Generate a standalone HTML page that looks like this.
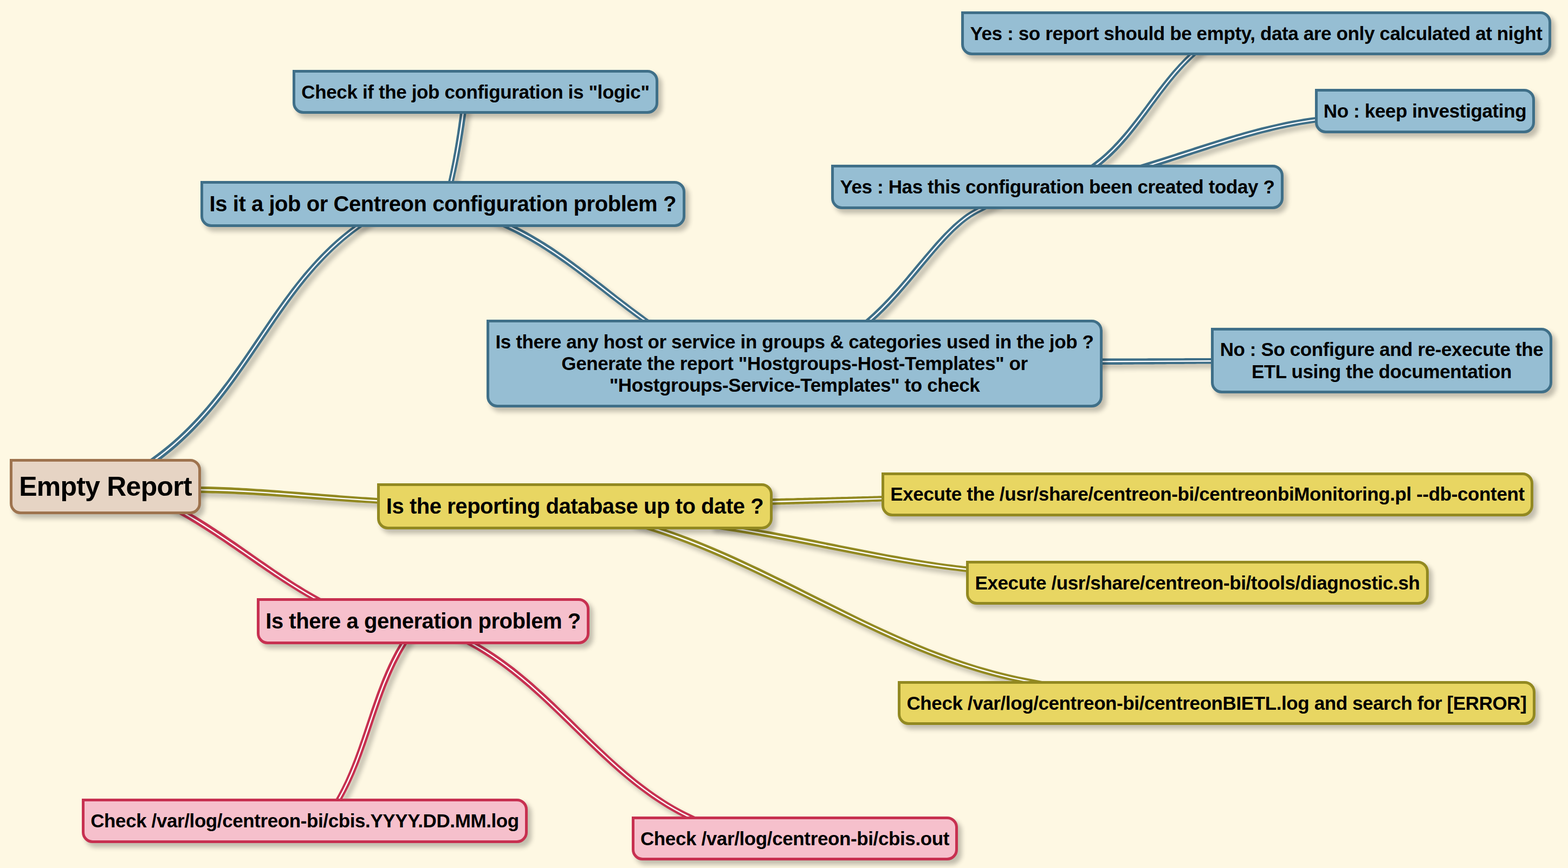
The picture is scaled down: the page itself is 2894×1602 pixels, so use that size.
<!DOCTYPE html>
<html lang="en">
<head>
<meta charset="utf-8">
<title>Empty Report</title>
<style>
html,body{margin:0;padding:0;}
body{width:2894px;height:1602px;background:#fef8e3;overflow:hidden;position:relative;font-family:"Liberation Sans",sans-serif;}
#map{position:absolute;left:0;top:0;width:2894px;height:1602px;overflow:hidden;}
#links{position:absolute;left:0;top:0;}
.n{position:absolute;box-sizing:border-box;border:5px solid;border-radius:0 20px 20px 20px;
 box-shadow:6.5px 7.5px 8.5px rgba(0,0,0,.24);color:#000;font-weight:bold;text-align:center;white-space:nowrap;
 display:flex;flex-direction:column;justify-content:center;align-items:center;}
.n span{display:block;position:relative;}

.root{background:#e6d4c4;border-color:#9e734e;}
.blue{background:#96bed3;border-color:#3f6f88;}
.olive{background:#e8d662;border-color:#928921;}
.pink{background:#f6c0cc;border-color:#c73050;}
.f0{font-size:50px;line-height:58px;}
.f1{font-size:40px;line-height:47px;}
.f2{font-size:35px;line-height:40.2px;}
.f0 span{top:-0.3px}.f1 span{top:-0.2px}.f2 span{top:0.2px}
</style>
</head>
<body>
<div id="map">
<svg id="links" xmlns="http://www.w3.org/2000/svg" width="2894" height="1602" viewBox="0 0 2894 1602" fill="none" stroke-linecap="butt" stroke-linejoin="round">
<defs><filter id="sh" x="0" y="0" width="2894" height="1602" filterUnits="userSpaceOnUse"><feGaussianBlur in="SourceAlpha" stdDeviation="4.2"/><feOffset dx="6.5" dy="7.5"/><feComponentTransfer><feFuncA type="linear" slope="0.23"/></feComponentTransfer></filter></defs>
<g filter="url(#sh)" fill="#000" stroke="none">
<path d="M247.5,883.2 L286.6,855.4 L297.5,847.4 L308.0,839.3 L318.2,830.9 L328.1,822.4 L337.7,813.7 L347.0,804.9 L356.1,795.9 L365.0,786.7 L373.6,777.5 L382.0,768.1 L390.2,758.6 L398.2,749.0 L406.0,739.3 L413.6,729.5 L421.1,719.7 L428.5,709.8 L435.8,699.8 L442.9,689.8 L450.0,679.8 L456.9,669.7 L463.8,659.7 L470.7,649.6 L477.5,639.5 L484.3,629.4 L491.0,619.4 L497.8,609.4 L504.5,599.4 L511.3,589.5 L518.2,579.7 L525.1,569.9 L532.0,560.2 L539.1,550.5 L546.2,541.0 L553.4,531.6 L560.8,522.3 L568.2,513.1 L575.9,504.0 L583.6,495.1 L591.6,486.4 L599.7,477.7 L608.1,469.3 L616.6,461.0 L625.4,453.0 L634.4,445.1 L643.7,437.4 L653.2,429.9 L663.0,422.7 L702.0,394.8 L695.9,386.2 L656.9,414.1 L646.8,421.5 L637.0,429.2 L627.5,437.0 L618.3,445.0 L609.3,453.3 L600.5,461.7 L592.0,470.3 L583.7,479.0 L575.6,487.9 L567.6,496.9 L559.8,506.1 L552.2,515.4 L544.8,524.8 L537.4,534.3 L530.2,544.0 L523.1,553.6 L516.0,563.4 L509.0,573.3 L502.1,583.1 L495.3,593.1 L488.5,603.1 L481.7,613.1 L474.9,623.1 L468.1,633.1 L461.2,643.2 L454.4,653.2 L447.5,663.2 L440.5,673.2 L433.5,683.1 L426.4,693.0 L419.2,702.9 L411.8,712.6 L404.4,722.3 L396.8,732.0 L389.1,741.5 L381.2,750.9 L373.1,760.2 L364.8,769.4 L356.3,778.5 L347.6,787.5 L338.7,796.2 L329.5,804.9 L320.1,813.4 L310.4,821.7 L300.4,829.8 L290.1,837.7 L279.6,845.4 L240.5,873.3Z"/>
<path d="M855.3,161.9 L848.8,209.5 L848.5,212.1 L848.2,214.8 L847.8,217.4 L847.4,220.0 L847.1,222.7 L846.7,225.3 L846.3,228.0 L846.0,230.6 L845.6,233.3 L845.2,235.9 L844.8,238.5 L844.4,241.2 L844.1,243.8 L843.7,246.4 L843.3,249.1 L842.8,251.7 L842.4,254.4 L842.0,257.0 L841.6,259.6 L841.2,262.3 L840.7,264.9 L840.3,267.5 L839.9,270.2 L839.4,272.8 L839.0,275.4 L838.5,278.0 L838.1,280.7 L837.6,283.3 L837.1,285.9 L836.6,288.5 L836.2,291.2 L835.7,293.8 L835.2,296.4 L834.7,299.0 L834.2,301.6 L833.7,304.2 L833.1,306.8 L832.6,309.5 L832.1,312.1 L831.5,314.7 L831.0,317.3 L830.5,319.9 L829.9,322.5 L829.3,325.1 L828.8,327.7 L828.2,330.3 L827.6,332.9 L816.8,379.6 L826.9,382.0 L837.7,335.2 L838.4,332.6 L839.0,330.0 L839.6,327.4 L840.2,324.7 L840.7,322.1 L841.3,319.5 L841.9,316.9 L842.5,314.2 L843.0,311.6 L843.6,309.0 L844.1,306.4 L844.7,303.7 L845.2,301.1 L845.7,298.4 L846.3,295.8 L846.8,293.2 L847.3,290.5 L847.8,287.9 L848.3,285.3 L848.8,282.6 L849.3,280.0 L849.8,277.3 L850.2,274.7 L850.7,272.0 L851.2,269.4 L851.7,266.7 L852.1,264.1 L852.6,261.4 L853.0,258.8 L853.5,256.1 L853.9,253.5 L854.3,250.8 L854.8,248.2 L855.2,245.5 L855.6,242.9 L856.0,240.2 L856.4,237.6 L856.8,234.9 L857.3,232.3 L857.7,229.6 L858.0,227.0 L858.4,224.3 L858.8,221.6 L859.2,219.0 L859.6,216.3 L860.0,213.7 L860.3,211.0 L866.8,163.5Z"/>
<path d="M895.0,403.6 L938.4,424.0 L944.2,426.8 L949.9,429.6 L955.6,432.4 L961.3,435.4 L966.9,438.4 L972.4,441.5 L978.0,444.6 L983.5,447.8 L988.9,451.0 L994.4,454.3 L999.8,457.7 L1005.1,461.1 L1010.5,464.5 L1015.8,468.0 L1021.1,471.5 L1026.4,475.1 L1031.7,478.7 L1036.9,482.4 L1042.1,486.1 L1047.3,489.8 L1052.5,493.5 L1057.6,497.3 L1062.8,501.1 L1067.9,504.9 L1073.1,508.8 L1078.2,512.7 L1083.3,516.5 L1088.4,520.4 L1093.5,524.3 L1098.6,528.3 L1103.7,532.2 L1108.8,536.1 L1113.9,540.1 L1118.9,544.0 L1124.0,547.9 L1129.1,551.9 L1134.2,555.8 L1139.3,559.7 L1144.4,563.6 L1149.6,567.5 L1154.7,571.4 L1159.8,575.3 L1165.0,579.1 L1170.2,583.0 L1175.4,586.8 L1180.6,590.6 L1185.8,594.3 L1224.8,622.3 L1230.8,613.8 L1191.8,585.9 L1186.7,582.1 L1181.5,578.3 L1176.4,574.5 L1171.3,570.7 L1166.2,566.9 L1161.1,563.0 L1156.0,559.1 L1150.9,555.2 L1145.8,551.3 L1140.7,547.4 L1135.7,543.4 L1130.6,539.5 L1125.5,535.5 L1120.5,531.6 L1115.4,527.6 L1110.3,523.6 L1105.2,519.7 L1100.1,515.7 L1095.0,511.8 L1089.9,507.9 L1084.8,503.9 L1079.7,500.0 L1074.5,496.2 L1069.4,492.3 L1064.2,488.4 L1059.0,484.6 L1053.8,480.8 L1048.6,477.0 L1043.3,473.3 L1038.0,469.6 L1032.7,465.9 L1027.4,462.3 L1022.0,458.6 L1016.7,455.1 L1011.2,451.6 L1005.8,448.1 L1000.3,444.7 L994.8,441.3 L989.2,438.0 L983.7,434.7 L978.0,431.5 L972.4,428.3 L966.6,425.2 L960.9,422.2 L955.1,419.2 L949.3,416.3 L943.4,413.5 L899.9,393.1Z"/>
<path d="M1571.4,627.8 L1607.7,596.4 L1612.7,592.1 L1617.5,587.7 L1622.3,583.2 L1627.1,578.6 L1631.8,573.9 L1636.5,569.2 L1641.1,564.4 L1645.7,559.5 L1650.2,554.6 L1654.7,549.6 L1659.2,544.7 L1663.6,539.6 L1668.0,534.6 L1672.3,529.5 L1676.6,524.5 L1680.9,519.4 L1685.2,514.3 L1689.4,509.2 L1693.6,504.2 L1697.8,499.2 L1701.9,494.2 L1706.0,489.2 L1710.1,484.2 L1714.2,479.4 L1718.3,474.5 L1722.3,469.7 L1726.3,465.0 L1730.3,460.4 L1734.3,455.8 L1738.3,451.4 L1742.3,447.0 L1746.2,442.7 L1750.2,438.5 L1754.1,434.4 L1758.0,430.5 L1762.0,426.6 L1765.9,422.9 L1769.8,419.4 L1773.7,415.9 L1777.6,412.6 L1781.4,409.5 L1785.3,406.5 L1789.2,403.7 L1793.1,401.1 L1797.0,398.7 L1800.8,396.4 L1804.7,394.3 L1847.5,372.6 L1842.8,363.3 L1800.0,385.1 L1795.8,387.3 L1791.5,389.7 L1787.4,392.3 L1783.2,395.1 L1779.1,398.1 L1775.0,401.2 L1770.9,404.5 L1766.8,407.9 L1762.7,411.4 L1758.6,415.1 L1754.6,418.9 L1750.5,422.9 L1746.5,426.9 L1742.4,431.1 L1738.4,435.3 L1734.3,439.7 L1730.3,444.1 L1726.2,448.6 L1722.1,453.2 L1718.1,457.9 L1714.0,462.7 L1709.9,467.4 L1705.8,472.3 L1701.7,477.2 L1697.6,482.1 L1693.4,487.1 L1689.2,492.1 L1685.1,497.1 L1680.9,502.1 L1676.6,507.1 L1672.4,512.2 L1668.1,517.2 L1663.8,522.2 L1659.5,527.2 L1655.1,532.2 L1650.7,537.1 L1646.3,542.0 L1641.9,546.9 L1637.4,551.7 L1632.8,556.5 L1628.3,561.2 L1623.7,565.8 L1619.1,570.3 L1614.4,574.8 L1609.7,579.2 L1605.0,583.5 L1600.2,587.7 L1563.8,619.0Z"/>
<path d="M1987.0,673.3 L2035.0,673.1 L2039.3,673.1 L2043.5,673.0 L2047.8,673.0 L2052.0,673.0 L2056.3,672.9 L2060.6,672.9 L2064.8,672.9 L2069.1,672.9 L2073.3,672.8 L2077.6,672.8 L2081.8,672.8 L2086.1,672.7 L2090.3,672.7 L2094.6,672.6 L2098.9,672.6 L2103.1,672.6 L2107.4,672.5 L2111.6,672.5 L2115.9,672.5 L2120.1,672.4 L2124.4,672.4 L2128.6,672.4 L2132.9,672.3 L2137.2,672.3 L2141.4,672.3 L2145.7,672.2 L2149.9,672.2 L2154.2,672.1 L2158.4,672.1 L2162.7,672.1 L2166.9,672.0 L2171.2,672.0 L2175.5,671.9 L2179.7,671.9 L2184.0,671.9 L2188.2,671.8 L2192.5,671.8 L2196.7,671.8 L2201.0,671.7 L2205.2,671.7 L2209.5,671.6 L2213.8,671.6 L2218.0,671.6 L2222.3,671.5 L2226.5,671.5 L2230.8,671.4 L2235.0,671.4 L2283.0,671.1 L2283.0,660.7 L2235.0,661.0 L2230.7,661.0 L2226.5,661.0 L2222.2,661.0 L2217.9,661.1 L2213.7,661.1 L2209.4,661.1 L2205.2,661.1 L2200.9,661.1 L2196.7,661.1 L2192.4,661.1 L2188.2,661.1 L2183.9,661.2 L2179.6,661.2 L2175.4,661.2 L2171.1,661.2 L2166.9,661.2 L2162.6,661.2 L2158.4,661.2 L2154.1,661.3 L2149.9,661.3 L2145.6,661.3 L2141.4,661.3 L2137.1,661.3 L2132.8,661.3 L2128.6,661.3 L2124.3,661.3 L2120.1,661.3 L2115.8,661.4 L2111.6,661.4 L2107.3,661.4 L2103.1,661.4 L2098.8,661.4 L2094.5,661.4 L2090.3,661.4 L2086.0,661.4 L2081.8,661.4 L2077.5,661.4 L2073.3,661.4 L2069.0,661.5 L2064.8,661.5 L2060.5,661.5 L2056.3,661.5 L2052.0,661.5 L2047.7,661.5 L2043.5,661.5 L2039.2,661.5 L2035.0,661.5 L1987.0,661.7Z"/>
<path d="M1987.8,338.2 L2026.1,309.3 L2030.8,305.7 L2035.4,302.0 L2039.9,298.2 L2044.3,294.3 L2048.6,290.4 L2052.9,286.4 L2057.1,282.3 L2061.2,278.2 L2065.2,274.0 L2069.1,269.7 L2073.0,265.4 L2076.9,261.1 L2080.7,256.7 L2084.4,252.2 L2088.1,247.8 L2091.7,243.3 L2095.3,238.8 L2098.9,234.2 L2102.5,229.6 L2106.0,225.0 L2109.4,220.4 L2112.9,215.8 L2116.4,211.2 L2119.8,206.5 L2123.2,201.9 L2126.6,197.2 L2130.0,192.6 L2133.5,188.0 L2136.9,183.3 L2140.3,178.7 L2143.7,174.1 L2147.2,169.6 L2150.7,165.0 L2154.2,160.5 L2157.7,156.0 L2161.3,151.6 L2164.8,147.2 L2168.5,142.8 L2172.1,138.5 L2175.8,134.2 L2179.6,129.9 L2183.4,125.7 L2187.3,121.6 L2191.2,117.6 L2195.2,113.6 L2199.2,109.6 L2203.3,105.8 L2238.7,73.3 L2231.6,65.6 L2196.3,98.1 L2192.0,102.1 L2187.8,106.1 L2183.7,110.2 L2179.7,114.4 L2175.7,118.6 L2171.8,122.9 L2167.9,127.2 L2164.1,131.5 L2160.3,135.9 L2156.6,140.4 L2152.9,144.9 L2149.3,149.4 L2145.7,153.9 L2142.2,158.5 L2138.6,163.0 L2135.1,167.6 L2131.6,172.2 L2128.2,176.8 L2124.7,181.5 L2121.3,186.1 L2117.8,190.7 L2114.4,195.4 L2111.0,200.0 L2107.5,204.6 L2104.1,209.2 L2100.6,213.7 L2097.1,218.3 L2093.7,222.8 L2090.1,227.3 L2086.6,231.8 L2083.0,236.3 L2079.4,240.7 L2075.8,245.0 L2072.1,249.3 L2068.4,253.6 L2064.6,257.8 L2060.8,262.0 L2056.9,266.1 L2053.0,270.2 L2049.0,274.2 L2045.0,278.1 L2040.9,281.9 L2036.7,285.7 L2032.4,289.4 L2028.1,293.1 L2023.6,296.6 L2019.1,300.1 L1980.8,329.0Z"/>
<path d="M2080.8,323.6 L2126.6,309.4 L2133.0,307.4 L2139.3,305.3 L2145.7,303.3 L2152.1,301.3 L2158.4,299.2 L2164.8,297.1 L2171.1,295.1 L2177.5,293.0 L2183.8,290.9 L2190.1,288.8 L2196.5,286.7 L2202.8,284.6 L2209.2,282.6 L2215.5,280.5 L2221.8,278.4 L2228.2,276.4 L2234.5,274.3 L2240.9,272.3 L2247.2,270.3 L2253.5,268.3 L2259.9,266.3 L2266.3,264.3 L2272.6,262.4 L2279.0,260.4 L2285.3,258.5 L2291.7,256.7 L2298.1,254.8 L2304.5,253.0 L2310.9,251.2 L2317.3,249.5 L2323.7,247.8 L2330.1,246.1 L2336.5,244.5 L2343.0,242.9 L2349.4,241.3 L2355.8,239.8 L2362.3,238.3 L2368.8,236.9 L2375.3,235.5 L2381.8,234.2 L2388.3,232.9 L2394.8,231.7 L2401.3,230.6 L2407.9,229.5 L2414.5,228.4 L2421.0,227.4 L2427.6,226.5 L2475.2,220.2 L2473.8,209.9 L2426.3,216.2 L2419.6,217.1 L2412.9,218.1 L2406.2,219.1 L2399.6,220.2 L2392.9,221.4 L2386.3,222.6 L2379.7,223.8 L2373.1,225.1 L2366.6,226.5 L2360.0,227.9 L2353.5,229.4 L2346.9,230.9 L2340.4,232.4 L2333.9,234.0 L2327.4,235.6 L2320.9,237.3 L2314.5,239.0 L2308.0,240.8 L2301.5,242.5 L2295.1,244.3 L2288.7,246.2 L2282.2,248.0 L2275.8,249.9 L2269.4,251.8 L2263.0,253.8 L2256.6,255.7 L2250.2,257.7 L2243.9,259.7 L2237.5,261.7 L2231.1,263.7 L2224.7,265.7 L2218.4,267.8 L2212.0,269.8 L2205.7,271.8 L2199.3,273.9 L2193.0,276.0 L2186.6,278.0 L2180.3,280.1 L2173.9,282.1 L2167.6,284.2 L2161.2,286.2 L2154.9,288.3 L2148.5,290.3 L2142.2,292.3 L2135.8,294.3 L2129.5,296.3 L2123.1,298.3 L2077.3,312.6Z"/>
<path d="M322.8,909.4 L370.8,910.1 L377.7,910.1 L384.6,910.3 L391.6,910.4 L398.5,910.6 L405.4,910.8 L412.3,911.0 L419.2,911.3 L426.1,911.5 L433.0,911.8 L439.9,912.2 L446.8,912.5 L453.7,912.8 L460.6,913.2 L467.5,913.6 L474.4,914.0 L481.3,914.4 L488.2,914.9 L495.1,915.3 L502.0,915.8 L508.9,916.3 L515.8,916.7 L522.7,917.2 L529.6,917.7 L536.5,918.2 L543.4,918.8 L550.3,919.3 L557.2,919.8 L564.1,920.3 L571.1,920.8 L578.0,921.4 L584.9,921.9 L591.8,922.4 L598.7,922.9 L605.6,923.5 L612.5,924.0 L619.5,924.5 L626.4,925.0 L633.3,925.5 L640.2,926.0 L647.2,926.4 L654.1,926.9 L661.1,927.4 L668.0,927.8 L675.0,928.2 L681.9,928.6 L688.9,929.0 L695.8,929.4 L743.8,932.1 L744.4,921.6 L696.4,918.9 L689.5,918.5 L682.6,918.1 L675.6,917.6 L668.7,917.2 L661.8,916.7 L654.9,916.2 L647.9,915.7 L641.0,915.2 L634.1,914.7 L627.2,914.2 L620.3,913.6 L613.4,913.1 L606.5,912.5 L599.5,912.0 L592.6,911.4 L585.7,910.8 L578.8,910.3 L571.9,909.7 L565.0,909.2 L558.1,908.6 L551.2,908.0 L544.3,907.5 L537.4,906.9 L530.5,906.4 L523.6,905.9 L516.7,905.3 L509.8,904.8 L502.8,904.3 L495.9,903.8 L489.0,903.3 L482.1,902.8 L475.2,902.4 L468.3,901.9 L461.3,901.5 L454.4,901.1 L447.5,900.7 L440.5,900.3 L433.6,900.0 L426.6,899.6 L419.7,899.3 L412.8,899.0 L405.8,898.8 L398.8,898.5 L391.9,898.3 L384.9,898.1 L377.9,898.0 L370.9,897.9 L323.0,897.2Z"/>
<path d="M1377.8,933.0 L1425.7,931.8 L1430.0,931.7 L1434.3,931.6 L1438.6,931.5 L1442.9,931.3 L1447.2,931.2 L1451.5,931.1 L1455.8,931.0 L1460.1,930.8 L1464.4,930.7 L1468.7,930.6 L1473.0,930.5 L1477.3,930.3 L1481.5,930.2 L1485.8,930.1 L1490.1,929.9 L1494.4,929.8 L1498.7,929.7 L1503.0,929.6 L1507.2,929.4 L1511.5,929.3 L1515.8,929.2 L1520.1,929.0 L1524.4,928.9 L1528.6,928.8 L1532.9,928.6 L1537.2,928.5 L1541.5,928.3 L1545.7,928.2 L1550.0,928.1 L1554.3,927.9 L1558.6,927.8 L1562.8,927.7 L1567.1,927.5 L1571.4,927.4 L1575.7,927.2 L1579.9,927.1 L1584.2,927.0 L1588.5,926.8 L1592.8,926.7 L1597.0,926.6 L1601.3,926.4 L1605.6,926.3 L1609.9,926.1 L1614.1,926.0 L1618.4,925.9 L1622.7,925.7 L1627.0,925.6 L1675.0,924.2 L1674.7,913.8 L1626.7,915.2 L1622.4,915.3 L1618.1,915.4 L1613.8,915.5 L1609.6,915.7 L1605.3,915.8 L1601.0,915.9 L1596.7,916.0 L1592.4,916.1 L1588.2,916.2 L1583.9,916.3 L1579.6,916.4 L1575.3,916.5 L1571.1,916.7 L1566.8,916.8 L1562.5,916.9 L1558.2,917.0 L1554.0,917.1 L1549.7,917.2 L1545.4,917.3 L1541.1,917.4 L1536.9,917.5 L1532.6,917.7 L1528.3,917.8 L1524.0,917.9 L1519.8,918.0 L1515.5,918.1 L1511.2,918.2 L1506.9,918.3 L1502.6,918.4 L1498.4,918.5 L1494.1,918.6 L1489.8,918.7 L1485.5,918.8 L1481.2,918.9 L1477.0,919.0 L1472.7,919.1 L1468.4,919.3 L1464.1,919.4 L1459.8,919.5 L1455.5,919.5 L1451.2,919.6 L1446.9,919.7 L1442.6,919.8 L1438.4,919.9 L1434.1,920.0 L1429.8,920.1 L1425.5,920.2 L1377.5,921.4Z"/>
<path d="M1309.0,974.2 L1356.4,981.6 L1365.5,983.0 L1374.6,984.5 L1383.7,986.0 L1392.8,987.6 L1401.8,989.1 L1410.9,990.7 L1420.0,992.3 L1429.0,994.0 L1438.1,995.7 L1447.1,997.4 L1456.2,999.1 L1465.2,1000.8 L1474.2,1002.5 L1483.3,1004.3 L1492.3,1006.1 L1501.3,1007.8 L1510.3,1009.6 L1519.4,1011.4 L1528.4,1013.2 L1537.4,1015.0 L1546.4,1016.7 L1555.4,1018.5 L1564.5,1020.3 L1573.5,1022.0 L1582.5,1023.8 L1591.5,1025.5 L1600.6,1027.3 L1609.6,1029.0 L1618.6,1030.7 L1627.7,1032.3 L1636.7,1034.0 L1645.8,1035.6 L1654.8,1037.2 L1663.9,1038.8 L1673.0,1040.3 L1682.1,1041.8 L1691.2,1043.3 L1700.3,1044.8 L1709.4,1046.2 L1718.5,1047.5 L1727.6,1048.8 L1736.7,1050.1 L1745.9,1051.3 L1755.1,1052.5 L1764.2,1053.6 L1773.4,1054.7 L1782.6,1055.7 L1830.3,1060.9 L1831.5,1050.5 L1783.7,1045.3 L1774.6,1044.3 L1765.5,1043.2 L1756.4,1042.1 L1747.3,1040.9 L1738.2,1039.7 L1729.1,1038.4 L1720.0,1037.0 L1711.0,1035.7 L1701.9,1034.3 L1692.9,1032.8 L1683.8,1031.3 L1674.8,1029.8 L1665.7,1028.2 L1656.7,1026.6 L1647.7,1025.0 L1638.7,1023.4 L1629.7,1021.7 L1620.6,1020.0 L1611.6,1018.3 L1602.6,1016.6 L1593.6,1014.8 L1584.6,1013.0 L1575.6,1011.3 L1566.6,1009.5 L1557.6,1007.7 L1548.6,1005.9 L1539.6,1004.1 L1530.6,1002.3 L1521.5,1000.5 L1512.5,998.7 L1503.5,996.8 L1494.5,995.0 L1485.4,993.3 L1476.4,991.5 L1467.4,989.7 L1458.3,988.0 L1449.2,986.2 L1440.2,984.5 L1431.1,982.8 L1422.0,981.1 L1412.9,979.5 L1403.8,977.8 L1394.7,976.2 L1385.6,974.7 L1376.5,973.1 L1367.3,971.6 L1358.2,970.1 L1310.7,962.7Z"/>
<path d="M1162.8,967.6 L1208.5,982.3 L1223.4,987.2 L1238.2,992.3 L1252.9,997.6 L1267.6,1003.1 L1282.2,1008.8 L1296.7,1014.6 L1311.2,1020.6 L1325.6,1026.7 L1339.9,1033.0 L1354.2,1039.4 L1368.5,1046.0 L1382.8,1052.6 L1397.0,1059.3 L1411.1,1066.1 L1425.3,1072.9 L1439.4,1079.9 L1453.6,1086.8 L1467.7,1093.8 L1481.8,1100.8 L1495.9,1107.9 L1510.0,1114.9 L1524.1,1121.9 L1538.2,1128.9 L1552.4,1135.9 L1566.5,1142.8 L1580.7,1149.7 L1594.9,1156.5 L1609.2,1163.3 L1623.5,1169.9 L1637.8,1176.5 L1652.2,1182.9 L1666.6,1189.2 L1681.1,1195.4 L1695.7,1201.5 L1710.3,1207.3 L1725.0,1213.1 L1739.8,1218.6 L1754.6,1224.0 L1769.5,1229.1 L1784.6,1234.1 L1799.7,1238.8 L1814.9,1243.3 L1830.2,1247.5 L1845.6,1251.5 L1861.1,1255.2 L1876.8,1258.6 L1892.5,1261.8 L1939.7,1270.7 L1941.6,1260.5 L1894.5,1251.5 L1878.9,1248.4 L1863.5,1245.0 L1848.1,1241.3 L1832.9,1237.3 L1817.8,1233.1 L1802.7,1228.7 L1787.8,1224.0 L1772.9,1219.1 L1758.2,1213.9 L1743.5,1208.6 L1728.8,1203.1 L1714.3,1197.4 L1699.8,1191.5 L1685.3,1185.5 L1670.9,1179.3 L1656.6,1173.0 L1642.3,1166.6 L1628.0,1160.1 L1613.8,1153.4 L1599.6,1146.7 L1585.5,1139.9 L1571.3,1133.0 L1557.2,1126.1 L1543.1,1119.1 L1529.0,1112.1 L1514.9,1105.0 L1500.8,1098.0 L1486.7,1090.9 L1472.6,1083.8 L1458.5,1076.8 L1444.4,1069.8 L1430.2,1062.9 L1416.0,1056.0 L1401.8,1049.1 L1387.6,1042.4 L1373.3,1035.7 L1358.9,1029.1 L1344.5,1022.6 L1330.1,1016.3 L1315.6,1010.1 L1301.0,1004.0 L1286.4,998.1 L1271.7,992.3 L1256.9,986.8 L1242.1,981.4 L1227.1,976.2 L1212.1,971.2 L1166.4,956.5Z"/>
<path d="M297.7,930.2 L339.3,954.0 L344.6,957.1 L349.8,960.1 L355.0,963.2 L360.2,966.3 L365.4,969.5 L370.5,972.7 L375.7,975.9 L380.8,979.2 L385.9,982.4 L391.0,985.7 L396.1,989.1 L401.1,992.4 L406.2,995.8 L411.2,999.1 L416.3,1002.5 L421.3,1005.9 L426.3,1009.4 L431.3,1012.8 L436.3,1016.2 L441.3,1019.7 L446.4,1023.1 L451.4,1026.6 L456.4,1030.1 L461.4,1033.5 L466.4,1037.0 L471.4,1040.4 L476.4,1043.9 L481.4,1047.3 L486.5,1050.8 L491.5,1054.2 L496.6,1057.6 L501.6,1061.0 L506.7,1064.4 L511.8,1067.8 L516.9,1071.1 L522.0,1074.5 L527.1,1077.8 L532.3,1081.1 L537.5,1084.3 L542.7,1087.6 L547.9,1090.8 L553.1,1093.9 L558.4,1097.1 L563.6,1100.2 L569.0,1103.3 L574.3,1106.3 L579.7,1109.3 L621.6,1132.7 L626.7,1123.5 L584.8,1100.1 L579.5,1097.1 L574.2,1094.1 L569.0,1091.0 L563.8,1087.9 L558.6,1084.8 L553.5,1081.6 L548.3,1078.4 L543.2,1075.2 L538.1,1071.9 L533.0,1068.6 L528.0,1065.3 L522.9,1062.0 L517.9,1058.6 L512.8,1055.3 L507.8,1051.9 L502.8,1048.4 L497.8,1045.0 L492.8,1041.6 L487.8,1038.1 L482.8,1034.7 L477.8,1031.2 L472.8,1027.7 L467.8,1024.2 L462.9,1020.7 L457.9,1017.2 L452.9,1013.7 L447.9,1010.3 L442.9,1006.8 L437.9,1003.3 L432.9,999.8 L427.9,996.4 L422.8,992.9 L417.8,989.5 L412.7,986.0 L407.7,982.6 L402.6,979.2 L397.5,975.8 L392.4,972.5 L387.2,969.1 L382.1,965.8 L376.9,962.5 L371.7,959.3 L366.5,956.0 L361.3,952.8 L356.0,949.7 L350.7,946.5 L345.4,943.4 L303.7,919.6Z"/>
<path d="M764.4,1144.6 L739.4,1185.6 L735.9,1191.4 L732.6,1197.2 L729.3,1203.1 L726.2,1209.1 L723.1,1215.0 L720.2,1221.1 L717.3,1227.1 L714.5,1233.2 L711.8,1239.3 L709.2,1245.4 L706.6,1251.6 L704.1,1257.8 L701.7,1264.0 L699.3,1270.2 L696.9,1276.5 L694.6,1282.7 L692.4,1289.0 L690.2,1295.3 L688.0,1301.6 L685.8,1307.8 L683.7,1314.1 L681.6,1320.4 L679.5,1326.7 L677.4,1333.0 L675.3,1339.3 L673.2,1345.6 L671.1,1351.9 L669.0,1358.1 L666.9,1364.4 L664.7,1370.6 L662.6,1376.8 L660.4,1383.0 L658.1,1389.2 L655.9,1395.3 L653.6,1401.4 L651.2,1407.5 L648.9,1413.6 L646.4,1419.6 L643.9,1425.6 L641.3,1431.5 L638.7,1437.4 L636.0,1443.3 L633.2,1449.1 L630.3,1454.9 L627.4,1460.6 L624.4,1466.3 L621.2,1471.9 L597.5,1513.6 L606.5,1518.8 L630.3,1477.1 L633.5,1471.3 L636.6,1465.5 L639.7,1459.6 L642.6,1453.7 L645.5,1447.8 L648.3,1441.8 L651.0,1435.8 L653.7,1429.7 L656.2,1423.7 L658.7,1417.5 L661.2,1411.4 L663.6,1405.3 L665.9,1399.1 L668.2,1392.9 L670.5,1386.6 L672.7,1380.4 L675.0,1374.2 L677.1,1367.9 L679.3,1361.6 L681.4,1355.4 L683.6,1349.1 L685.7,1342.8 L687.8,1336.5 L689.9,1330.2 L692.0,1324.0 L694.2,1317.7 L696.3,1311.4 L698.5,1305.2 L700.7,1299.0 L702.9,1292.8 L705.2,1286.6 L707.4,1280.4 L709.8,1274.2 L712.2,1268.1 L714.6,1262.0 L717.1,1255.9 L719.6,1249.9 L722.2,1243.9 L724.9,1237.9 L727.7,1232.0 L730.5,1226.1 L733.4,1220.2 L736.4,1214.4 L739.5,1208.6 L742.6,1202.9 L745.9,1197.2 L749.3,1191.6 L774.3,1150.7Z"/>
<path d="M827.7,1170.7 L869.7,1193.8 L879.2,1199.1 L888.6,1204.7 L897.8,1210.4 L906.8,1216.3 L915.8,1222.4 L924.6,1228.6 L933.3,1235.0 L941.9,1241.6 L950.3,1248.3 L958.7,1255.1 L967.0,1262.1 L975.3,1269.1 L983.4,1276.3 L991.5,1283.5 L999.5,1290.8 L1007.5,1298.3 L1015.4,1305.7 L1023.3,1313.2 L1031.2,1320.8 L1039.0,1328.4 L1046.9,1336.0 L1054.7,1343.7 L1062.5,1351.3 L1070.4,1359.0 L1078.2,1366.6 L1086.1,1374.2 L1094.0,1381.8 L1102.0,1389.4 L1109.9,1396.9 L1118.0,1404.3 L1126.1,1411.7 L1134.3,1419.0 L1142.5,1426.2 L1150.9,1433.3 L1159.3,1440.3 L1167.8,1447.2 L1176.4,1454.0 L1185.2,1460.6 L1194.0,1467.1 L1203.0,1473.4 L1212.1,1479.6 L1221.4,1485.6 L1230.8,1491.4 L1240.4,1497.0 L1250.1,1502.4 L1260.1,1507.6 L1270.1,1512.5 L1313.5,1533.2 L1317.9,1523.8 L1274.6,1503.1 L1264.8,1498.3 L1255.1,1493.2 L1245.6,1487.9 L1236.2,1482.4 L1227.0,1476.7 L1218.0,1470.8 L1209.0,1464.7 L1200.2,1458.5 L1191.5,1452.1 L1182.9,1445.5 L1174.5,1438.9 L1166.1,1432.1 L1157.8,1425.1 L1149.6,1418.1 L1141.4,1410.9 L1133.3,1403.7 L1125.3,1396.4 L1117.4,1389.0 L1109.4,1381.5 L1101.6,1374.0 L1093.7,1366.4 L1085.9,1358.8 L1078.1,1351.1 L1070.2,1343.5 L1062.4,1335.8 L1054.6,1328.1 L1046.8,1320.5 L1038.9,1312.8 L1031.0,1305.2 L1023.1,1297.6 L1015.1,1290.1 L1007.1,1282.6 L999.0,1275.2 L990.9,1267.9 L982.7,1260.6 L974.4,1253.4 L966.0,1246.4 L957.5,1239.4 L948.9,1232.6 L940.1,1225.9 L931.3,1219.4 L922.3,1213.0 L913.2,1206.7 L904.0,1200.7 L894.6,1194.8 L885.0,1189.1 L875.3,1183.6 L833.2,1160.5Z"/>
</g>
<path d="M247.5,883.2 L286.6,855.4 L297.5,847.4 L308.0,839.3 L318.2,830.9 L328.1,822.4 L337.7,813.7 L347.0,804.9 L356.1,795.9 L365.0,786.7 L373.6,777.5 L382.0,768.1 L390.2,758.6 L398.2,749.0 L406.0,739.3 L413.6,729.5 L421.1,719.7 L428.5,709.8 L435.8,699.8 L442.9,689.8 L450.0,679.8 L456.9,669.7 L463.8,659.7 L470.7,649.6 L477.5,639.5 L484.3,629.4 L491.0,619.4 L497.8,609.4 L504.5,599.4 L511.3,589.5 L518.2,579.7 L525.1,569.9 L532.0,560.2 L539.1,550.5 L546.2,541.0 L553.4,531.6 L560.8,522.3 L568.2,513.1 L575.9,504.0 L583.6,495.1 L591.6,486.4 L599.7,477.7 L608.1,469.3 L616.6,461.0 L625.4,453.0 L634.4,445.1 L643.7,437.4 L653.2,429.9 L663.0,422.7 L702.0,394.8 L695.9,386.2 L656.9,414.1 L646.8,421.5 L637.0,429.2 L627.5,437.0 L618.3,445.0 L609.3,453.3 L600.5,461.7 L592.0,470.3 L583.7,479.0 L575.6,487.9 L567.6,496.9 L559.8,506.1 L552.2,515.4 L544.8,524.8 L537.4,534.3 L530.2,544.0 L523.1,553.6 L516.0,563.4 L509.0,573.3 L502.1,583.1 L495.3,593.1 L488.5,603.1 L481.7,613.1 L474.9,623.1 L468.1,633.1 L461.2,643.2 L454.4,653.2 L447.5,663.2 L440.5,673.2 L433.5,683.1 L426.4,693.0 L419.2,702.9 L411.8,712.6 L404.4,722.3 L396.8,732.0 L389.1,741.5 L381.2,750.9 L373.1,760.2 L364.8,769.4 L356.3,778.5 L347.6,787.5 L338.7,796.2 L329.5,804.9 L320.1,813.4 L310.4,821.7 L300.4,829.8 L290.1,837.7 L279.6,845.4 L240.5,873.3Z" fill="#3f6f88" stroke="none"/>
<path d="M243.99,878.25 L283.09,850.41 C453.47,729.10 501.97,531.40 659.93,418.42 L698.97,390.49" stroke="#fff" stroke-width="2.4"/>
<path d="M855.3,161.9 L848.8,209.5 L848.5,212.1 L848.2,214.8 L847.8,217.4 L847.4,220.0 L847.1,222.7 L846.7,225.3 L846.3,228.0 L846.0,230.6 L845.6,233.3 L845.2,235.9 L844.8,238.5 L844.4,241.2 L844.1,243.8 L843.7,246.4 L843.3,249.1 L842.8,251.7 L842.4,254.4 L842.0,257.0 L841.6,259.6 L841.2,262.3 L840.7,264.9 L840.3,267.5 L839.9,270.2 L839.4,272.8 L839.0,275.4 L838.5,278.0 L838.1,280.7 L837.6,283.3 L837.1,285.9 L836.6,288.5 L836.2,291.2 L835.7,293.8 L835.2,296.4 L834.7,299.0 L834.2,301.6 L833.7,304.2 L833.1,306.8 L832.6,309.5 L832.1,312.1 L831.5,314.7 L831.0,317.3 L830.5,319.9 L829.9,322.5 L829.3,325.1 L828.8,327.7 L828.2,330.3 L827.6,332.9 L816.8,379.6 L826.9,382.0 L837.7,335.2 L838.4,332.6 L839.0,330.0 L839.6,327.4 L840.2,324.7 L840.7,322.1 L841.3,319.5 L841.9,316.9 L842.5,314.2 L843.0,311.6 L843.6,309.0 L844.1,306.4 L844.7,303.7 L845.2,301.1 L845.7,298.4 L846.3,295.8 L846.8,293.2 L847.3,290.5 L847.8,287.9 L848.3,285.3 L848.8,282.6 L849.3,280.0 L849.8,277.3 L850.2,274.7 L850.7,272.0 L851.2,269.4 L851.7,266.7 L852.1,264.1 L852.6,261.4 L853.0,258.8 L853.5,256.1 L853.9,253.5 L854.3,250.8 L854.8,248.2 L855.2,245.5 L855.6,242.9 L856.0,240.2 L856.4,237.6 L856.8,234.9 L857.3,232.3 L857.7,229.6 L858.0,227.0 L858.4,224.3 L858.8,221.6 L859.2,219.0 L859.6,216.3 L860.0,213.7 L860.3,211.0 L866.8,163.5Z" fill="#3f6f88" stroke="none"/>
<path d="M861.02,162.68 L854.59,210.24 C848.98,251.76 842.10,293.24 832.68,334.05 L821.87,380.81" stroke="#fff" stroke-width="2.4"/>
<path d="M895.0,403.6 L938.4,424.0 L944.2,426.8 L949.9,429.6 L955.6,432.4 L961.3,435.4 L966.9,438.4 L972.4,441.5 L978.0,444.6 L983.5,447.8 L988.9,451.0 L994.4,454.3 L999.8,457.7 L1005.1,461.1 L1010.5,464.5 L1015.8,468.0 L1021.1,471.5 L1026.4,475.1 L1031.7,478.7 L1036.9,482.4 L1042.1,486.1 L1047.3,489.8 L1052.5,493.5 L1057.6,497.3 L1062.8,501.1 L1067.9,504.9 L1073.1,508.8 L1078.2,512.7 L1083.3,516.5 L1088.4,520.4 L1093.5,524.3 L1098.6,528.3 L1103.7,532.2 L1108.8,536.1 L1113.9,540.1 L1118.9,544.0 L1124.0,547.9 L1129.1,551.9 L1134.2,555.8 L1139.3,559.7 L1144.4,563.6 L1149.6,567.5 L1154.7,571.4 L1159.8,575.3 L1165.0,579.1 L1170.2,583.0 L1175.4,586.8 L1180.6,590.6 L1185.8,594.3 L1224.8,622.3 L1230.8,613.8 L1191.8,585.9 L1186.7,582.1 L1181.5,578.3 L1176.4,574.5 L1171.3,570.7 L1166.2,566.9 L1161.1,563.0 L1156.0,559.1 L1150.9,555.2 L1145.8,551.3 L1140.7,547.4 L1135.7,543.4 L1130.6,539.5 L1125.5,535.5 L1120.5,531.6 L1115.4,527.6 L1110.3,523.6 L1105.2,519.7 L1100.1,515.7 L1095.0,511.8 L1089.9,507.9 L1084.8,503.9 L1079.7,500.0 L1074.5,496.2 L1069.4,492.3 L1064.2,488.4 L1059.0,484.6 L1053.8,480.8 L1048.6,477.0 L1043.3,473.3 L1038.0,469.6 L1032.7,465.9 L1027.4,462.3 L1022.0,458.6 L1016.7,455.1 L1011.2,451.6 L1005.8,448.1 L1000.3,444.7 L994.8,441.3 L989.2,438.0 L983.7,434.7 L978.0,431.5 L972.4,428.3 L966.6,425.2 L960.9,422.2 L955.1,419.2 L949.3,416.3 L943.4,413.5 L899.9,393.1Z" fill="#3f6f88" stroke="none"/>
<path d="M897.45,398.38 L940.91,418.77 C1032.55,461.78 1107.32,531.59 1188.81,590.08 L1227.80,618.07" stroke="#fff" stroke-width="2.4"/>
<path d="M1571.4,627.8 L1607.7,596.4 L1612.7,592.1 L1617.5,587.7 L1622.3,583.2 L1627.1,578.6 L1631.8,573.9 L1636.5,569.2 L1641.1,564.4 L1645.7,559.5 L1650.2,554.6 L1654.7,549.6 L1659.2,544.7 L1663.6,539.6 L1668.0,534.6 L1672.3,529.5 L1676.6,524.5 L1680.9,519.4 L1685.2,514.3 L1689.4,509.2 L1693.6,504.2 L1697.8,499.2 L1701.9,494.2 L1706.0,489.2 L1710.1,484.2 L1714.2,479.4 L1718.3,474.5 L1722.3,469.7 L1726.3,465.0 L1730.3,460.4 L1734.3,455.8 L1738.3,451.4 L1742.3,447.0 L1746.2,442.7 L1750.2,438.5 L1754.1,434.4 L1758.0,430.5 L1762.0,426.6 L1765.9,422.9 L1769.8,419.4 L1773.7,415.9 L1777.6,412.6 L1781.4,409.5 L1785.3,406.5 L1789.2,403.7 L1793.1,401.1 L1797.0,398.7 L1800.8,396.4 L1804.7,394.3 L1847.5,372.6 L1842.8,363.3 L1800.0,385.1 L1795.8,387.3 L1791.5,389.7 L1787.4,392.3 L1783.2,395.1 L1779.1,398.1 L1775.0,401.2 L1770.9,404.5 L1766.8,407.9 L1762.7,411.4 L1758.6,415.1 L1754.6,418.9 L1750.5,422.9 L1746.5,426.9 L1742.4,431.1 L1738.4,435.3 L1734.3,439.7 L1730.3,444.1 L1726.2,448.6 L1722.1,453.2 L1718.1,457.9 L1714.0,462.7 L1709.9,467.4 L1705.8,472.3 L1701.7,477.2 L1697.6,482.1 L1693.4,487.1 L1689.2,492.1 L1685.1,497.1 L1680.9,502.1 L1676.6,507.1 L1672.4,512.2 L1668.1,517.2 L1663.8,522.2 L1659.5,527.2 L1655.1,532.2 L1650.7,537.1 L1646.3,542.0 L1641.9,546.9 L1637.4,551.7 L1632.8,556.5 L1628.3,561.2 L1623.7,565.8 L1619.1,570.3 L1614.4,574.8 L1609.7,579.2 L1605.0,583.5 L1600.2,587.7 L1563.8,619.0Z" fill="#3f6f88" stroke="none"/>
<path d="M1567.61,623.40 L1603.95,592.04 C1680.38,526.10 1738.76,422.02 1802.34,389.69 L1845.13,367.94" stroke="#fff" stroke-width="2.4"/>
<path d="M1987.0,673.3 L2035.0,673.1 L2039.3,673.1 L2043.5,673.0 L2047.8,673.0 L2052.0,673.0 L2056.3,672.9 L2060.6,672.9 L2064.8,672.9 L2069.1,672.9 L2073.3,672.8 L2077.6,672.8 L2081.8,672.8 L2086.1,672.7 L2090.3,672.7 L2094.6,672.6 L2098.9,672.6 L2103.1,672.6 L2107.4,672.5 L2111.6,672.5 L2115.9,672.5 L2120.1,672.4 L2124.4,672.4 L2128.6,672.4 L2132.9,672.3 L2137.2,672.3 L2141.4,672.3 L2145.7,672.2 L2149.9,672.2 L2154.2,672.1 L2158.4,672.1 L2162.7,672.1 L2166.9,672.0 L2171.2,672.0 L2175.5,671.9 L2179.7,671.9 L2184.0,671.9 L2188.2,671.8 L2192.5,671.8 L2196.7,671.8 L2201.0,671.7 L2205.2,671.7 L2209.5,671.6 L2213.8,671.6 L2218.0,671.6 L2222.3,671.5 L2226.5,671.5 L2230.8,671.4 L2235.0,671.4 L2283.0,671.1 L2283.0,660.7 L2235.0,661.0 L2230.7,661.0 L2226.5,661.0 L2222.2,661.0 L2217.9,661.1 L2213.7,661.1 L2209.4,661.1 L2205.2,661.1 L2200.9,661.1 L2196.7,661.1 L2192.4,661.1 L2188.2,661.1 L2183.9,661.2 L2179.6,661.2 L2175.4,661.2 L2171.1,661.2 L2166.9,661.2 L2162.6,661.2 L2158.4,661.2 L2154.1,661.3 L2149.9,661.3 L2145.6,661.3 L2141.4,661.3 L2137.1,661.3 L2132.8,661.3 L2128.6,661.3 L2124.3,661.3 L2120.1,661.3 L2115.8,661.4 L2111.6,661.4 L2107.3,661.4 L2103.1,661.4 L2098.8,661.4 L2094.5,661.4 L2090.3,661.4 L2086.0,661.4 L2081.8,661.4 L2077.5,661.4 L2073.3,661.4 L2069.0,661.5 L2064.8,661.5 L2060.5,661.5 L2056.3,661.5 L2052.0,661.5 L2047.7,661.5 L2043.5,661.5 L2039.2,661.5 L2035.0,661.5 L1987.0,661.7Z" fill="#3f6f88" stroke="none"/>
<path d="M1987.00,667.49 L2035.00,667.30 C2101.67,667.04 2168.33,666.61 2235.00,666.20 L2283.00,665.90" stroke="#fff" stroke-width="2.4"/>
<path d="M1987.8,338.2 L2026.1,309.3 L2030.8,305.7 L2035.4,302.0 L2039.9,298.2 L2044.3,294.3 L2048.6,290.4 L2052.9,286.4 L2057.1,282.3 L2061.2,278.2 L2065.2,274.0 L2069.1,269.7 L2073.0,265.4 L2076.9,261.1 L2080.7,256.7 L2084.4,252.2 L2088.1,247.8 L2091.7,243.3 L2095.3,238.8 L2098.9,234.2 L2102.5,229.6 L2106.0,225.0 L2109.4,220.4 L2112.9,215.8 L2116.4,211.2 L2119.8,206.5 L2123.2,201.9 L2126.6,197.2 L2130.0,192.6 L2133.5,188.0 L2136.9,183.3 L2140.3,178.7 L2143.7,174.1 L2147.2,169.6 L2150.7,165.0 L2154.2,160.5 L2157.7,156.0 L2161.3,151.6 L2164.8,147.2 L2168.5,142.8 L2172.1,138.5 L2175.8,134.2 L2179.6,129.9 L2183.4,125.7 L2187.3,121.6 L2191.2,117.6 L2195.2,113.6 L2199.2,109.6 L2203.3,105.8 L2238.7,73.3 L2231.6,65.6 L2196.3,98.1 L2192.0,102.1 L2187.8,106.1 L2183.7,110.2 L2179.7,114.4 L2175.7,118.6 L2171.8,122.9 L2167.9,127.2 L2164.1,131.5 L2160.3,135.9 L2156.6,140.4 L2152.9,144.9 L2149.3,149.4 L2145.7,153.9 L2142.2,158.5 L2138.6,163.0 L2135.1,167.6 L2131.6,172.2 L2128.2,176.8 L2124.7,181.5 L2121.3,186.1 L2117.8,190.7 L2114.4,195.4 L2111.0,200.0 L2107.5,204.6 L2104.1,209.2 L2100.6,213.7 L2097.1,218.3 L2093.7,222.8 L2090.1,227.3 L2086.6,231.8 L2083.0,236.3 L2079.4,240.7 L2075.8,245.0 L2072.1,249.3 L2068.4,253.6 L2064.6,257.8 L2060.8,262.0 L2056.9,266.1 L2053.0,270.2 L2049.0,274.2 L2045.0,278.1 L2040.9,281.9 L2036.7,285.7 L2032.4,289.4 L2028.1,293.1 L2023.6,296.6 L2019.1,300.1 L1980.8,329.0Z" fill="#3f6f88" stroke="none"/>
<path d="M1984.27,333.58 L2022.60,304.69 C2095.43,249.81 2133.53,162.80 2199.81,101.93 L2235.16,69.46" stroke="#fff" stroke-width="2.4"/>
<path d="M2080.8,323.6 L2126.6,309.4 L2133.0,307.4 L2139.3,305.3 L2145.7,303.3 L2152.1,301.3 L2158.4,299.2 L2164.8,297.1 L2171.1,295.1 L2177.5,293.0 L2183.8,290.9 L2190.1,288.8 L2196.5,286.7 L2202.8,284.6 L2209.2,282.6 L2215.5,280.5 L2221.8,278.4 L2228.2,276.4 L2234.5,274.3 L2240.9,272.3 L2247.2,270.3 L2253.5,268.3 L2259.9,266.3 L2266.3,264.3 L2272.6,262.4 L2279.0,260.4 L2285.3,258.5 L2291.7,256.7 L2298.1,254.8 L2304.5,253.0 L2310.9,251.2 L2317.3,249.5 L2323.7,247.8 L2330.1,246.1 L2336.5,244.5 L2343.0,242.9 L2349.4,241.3 L2355.8,239.8 L2362.3,238.3 L2368.8,236.9 L2375.3,235.5 L2381.8,234.2 L2388.3,232.9 L2394.8,231.7 L2401.3,230.6 L2407.9,229.5 L2414.5,228.4 L2421.0,227.4 L2427.6,226.5 L2475.2,220.2 L2473.8,209.9 L2426.3,216.2 L2419.6,217.1 L2412.9,218.1 L2406.2,219.1 L2399.6,220.2 L2392.9,221.4 L2386.3,222.6 L2379.7,223.8 L2373.1,225.1 L2366.6,226.5 L2360.0,227.9 L2353.5,229.4 L2346.9,230.9 L2340.4,232.4 L2333.9,234.0 L2327.4,235.6 L2320.9,237.3 L2314.5,239.0 L2308.0,240.8 L2301.5,242.5 L2295.1,244.3 L2288.7,246.2 L2282.2,248.0 L2275.8,249.9 L2269.4,251.8 L2263.0,253.8 L2256.6,255.7 L2250.2,257.7 L2243.9,259.7 L2237.5,261.7 L2231.1,263.7 L2224.7,265.7 L2218.4,267.8 L2212.0,269.8 L2205.7,271.8 L2199.3,273.9 L2193.0,276.0 L2186.6,278.0 L2180.3,280.1 L2173.9,282.1 L2167.6,284.2 L2161.2,286.2 L2154.9,288.3 L2148.5,290.3 L2142.2,292.3 L2135.8,294.3 L2129.5,296.3 L2123.1,298.3 L2077.3,312.6Z" fill="#3f6f88" stroke="none"/>
<path d="M2079.04,318.11 L2124.87,303.84 C2224.60,272.78 2322.69,235.17 2426.94,221.37 L2474.53,215.07" stroke="#fff" stroke-width="2.4"/>
<path d="M322.8,909.4 L370.8,910.1 L377.7,910.1 L384.6,910.3 L391.6,910.4 L398.5,910.6 L405.4,910.8 L412.3,911.0 L419.2,911.3 L426.1,911.5 L433.0,911.8 L439.9,912.2 L446.8,912.5 L453.7,912.8 L460.6,913.2 L467.5,913.6 L474.4,914.0 L481.3,914.4 L488.2,914.9 L495.1,915.3 L502.0,915.8 L508.9,916.3 L515.8,916.7 L522.7,917.2 L529.6,917.7 L536.5,918.2 L543.4,918.8 L550.3,919.3 L557.2,919.8 L564.1,920.3 L571.1,920.8 L578.0,921.4 L584.9,921.9 L591.8,922.4 L598.7,922.9 L605.6,923.5 L612.5,924.0 L619.5,924.5 L626.4,925.0 L633.3,925.5 L640.2,926.0 L647.2,926.4 L654.1,926.9 L661.1,927.4 L668.0,927.8 L675.0,928.2 L681.9,928.6 L688.9,929.0 L695.8,929.4 L743.8,932.1 L744.4,921.6 L696.4,918.9 L689.5,918.5 L682.6,918.1 L675.6,917.6 L668.7,917.2 L661.8,916.7 L654.9,916.2 L647.9,915.7 L641.0,915.2 L634.1,914.7 L627.2,914.2 L620.3,913.6 L613.4,913.1 L606.5,912.5 L599.5,912.0 L592.6,911.4 L585.7,910.8 L578.8,910.3 L571.9,909.7 L565.0,909.2 L558.1,908.6 L551.2,908.0 L544.3,907.5 L537.4,906.9 L530.5,906.4 L523.6,905.9 L516.7,905.3 L509.8,904.8 L502.8,904.3 L495.9,903.8 L489.0,903.3 L482.1,902.8 L475.2,902.4 L468.3,901.9 L461.3,901.5 L454.4,901.1 L447.5,900.7 L440.5,900.3 L433.6,900.0 L426.6,899.6 L419.7,899.3 L412.8,899.0 L405.8,898.8 L398.8,898.5 L391.9,898.3 L384.9,898.1 L377.9,898.0 L370.9,897.9 L323.0,897.2Z" fill="#928921" stroke="none"/>
<path d="M322.87,903.31 L370.87,903.96 C479.84,905.43 587.20,918.08 696.13,924.18 L744.06,926.86" stroke="#fff" stroke-width="2.4"/>
<path d="M1377.8,933.0 L1425.7,931.8 L1430.0,931.7 L1434.3,931.6 L1438.6,931.5 L1442.9,931.3 L1447.2,931.2 L1451.5,931.1 L1455.8,931.0 L1460.1,930.8 L1464.4,930.7 L1468.7,930.6 L1473.0,930.5 L1477.3,930.3 L1481.5,930.2 L1485.8,930.1 L1490.1,929.9 L1494.4,929.8 L1498.7,929.7 L1503.0,929.6 L1507.2,929.4 L1511.5,929.3 L1515.8,929.2 L1520.1,929.0 L1524.4,928.9 L1528.6,928.8 L1532.9,928.6 L1537.2,928.5 L1541.5,928.3 L1545.7,928.2 L1550.0,928.1 L1554.3,927.9 L1558.6,927.8 L1562.8,927.7 L1567.1,927.5 L1571.4,927.4 L1575.7,927.2 L1579.9,927.1 L1584.2,927.0 L1588.5,926.8 L1592.8,926.7 L1597.0,926.6 L1601.3,926.4 L1605.6,926.3 L1609.9,926.1 L1614.1,926.0 L1618.4,925.9 L1622.7,925.7 L1627.0,925.6 L1675.0,924.2 L1674.7,913.8 L1626.7,915.2 L1622.4,915.3 L1618.1,915.4 L1613.8,915.5 L1609.6,915.7 L1605.3,915.8 L1601.0,915.9 L1596.7,916.0 L1592.4,916.1 L1588.2,916.2 L1583.9,916.3 L1579.6,916.4 L1575.3,916.5 L1571.1,916.7 L1566.8,916.8 L1562.5,916.9 L1558.2,917.0 L1554.0,917.1 L1549.7,917.2 L1545.4,917.3 L1541.1,917.4 L1536.9,917.5 L1532.6,917.7 L1528.3,917.8 L1524.0,917.9 L1519.8,918.0 L1515.5,918.1 L1511.2,918.2 L1506.9,918.3 L1502.6,918.4 L1498.4,918.5 L1494.1,918.6 L1489.8,918.7 L1485.5,918.8 L1481.2,918.9 L1477.0,919.0 L1472.7,919.1 L1468.4,919.3 L1464.1,919.4 L1459.8,919.5 L1455.5,919.5 L1451.2,919.6 L1446.9,919.7 L1442.6,919.8 L1438.4,919.9 L1434.1,920.0 L1429.8,920.1 L1425.5,920.2 L1377.5,921.4Z" fill="#928921" stroke="none"/>
<path d="M1377.62,927.17 L1425.61,926.01 C1492.97,924.39 1559.77,922.33 1626.82,920.41 L1674.80,919.03" stroke="#fff" stroke-width="2.4"/>
<path d="M1309.0,974.2 L1356.4,981.6 L1365.5,983.0 L1374.6,984.5 L1383.7,986.0 L1392.8,987.6 L1401.8,989.1 L1410.9,990.7 L1420.0,992.3 L1429.0,994.0 L1438.1,995.7 L1447.1,997.4 L1456.2,999.1 L1465.2,1000.8 L1474.2,1002.5 L1483.3,1004.3 L1492.3,1006.1 L1501.3,1007.8 L1510.3,1009.6 L1519.4,1011.4 L1528.4,1013.2 L1537.4,1015.0 L1546.4,1016.7 L1555.4,1018.5 L1564.5,1020.3 L1573.5,1022.0 L1582.5,1023.8 L1591.5,1025.5 L1600.6,1027.3 L1609.6,1029.0 L1618.6,1030.7 L1627.7,1032.3 L1636.7,1034.0 L1645.8,1035.6 L1654.8,1037.2 L1663.9,1038.8 L1673.0,1040.3 L1682.1,1041.8 L1691.2,1043.3 L1700.3,1044.8 L1709.4,1046.2 L1718.5,1047.5 L1727.6,1048.8 L1736.7,1050.1 L1745.9,1051.3 L1755.1,1052.5 L1764.2,1053.6 L1773.4,1054.7 L1782.6,1055.7 L1830.3,1060.9 L1831.5,1050.5 L1783.7,1045.3 L1774.6,1044.3 L1765.5,1043.2 L1756.4,1042.1 L1747.3,1040.9 L1738.2,1039.7 L1729.1,1038.4 L1720.0,1037.0 L1711.0,1035.7 L1701.9,1034.3 L1692.9,1032.8 L1683.8,1031.3 L1674.8,1029.8 L1665.7,1028.2 L1656.7,1026.6 L1647.7,1025.0 L1638.7,1023.4 L1629.7,1021.7 L1620.6,1020.0 L1611.6,1018.3 L1602.6,1016.6 L1593.6,1014.8 L1584.6,1013.0 L1575.6,1011.3 L1566.6,1009.5 L1557.6,1007.7 L1548.6,1005.9 L1539.6,1004.1 L1530.6,1002.3 L1521.5,1000.5 L1512.5,998.7 L1503.5,996.8 L1494.5,995.0 L1485.4,993.3 L1476.4,991.5 L1467.4,989.7 L1458.3,988.0 L1449.2,986.2 L1440.2,984.5 L1431.1,982.8 L1422.0,981.1 L1412.9,979.5 L1403.8,977.8 L1394.7,976.2 L1385.6,974.7 L1376.5,973.1 L1367.3,971.6 L1358.2,970.1 L1310.7,962.7Z" fill="#928921" stroke="none"/>
<path d="M1309.85,968.45 L1357.27,975.88 C1500.48,998.31 1639.46,1034.94 1783.18,1050.52 L1830.90,1055.69" stroke="#fff" stroke-width="2.4"/>
<path d="M1162.8,967.6 L1208.5,982.3 L1223.4,987.2 L1238.2,992.3 L1252.9,997.6 L1267.6,1003.1 L1282.2,1008.8 L1296.7,1014.6 L1311.2,1020.6 L1325.6,1026.7 L1339.9,1033.0 L1354.2,1039.4 L1368.5,1046.0 L1382.8,1052.6 L1397.0,1059.3 L1411.1,1066.1 L1425.3,1072.9 L1439.4,1079.9 L1453.6,1086.8 L1467.7,1093.8 L1481.8,1100.8 L1495.9,1107.9 L1510.0,1114.9 L1524.1,1121.9 L1538.2,1128.9 L1552.4,1135.9 L1566.5,1142.8 L1580.7,1149.7 L1594.9,1156.5 L1609.2,1163.3 L1623.5,1169.9 L1637.8,1176.5 L1652.2,1182.9 L1666.6,1189.2 L1681.1,1195.4 L1695.7,1201.5 L1710.3,1207.3 L1725.0,1213.1 L1739.8,1218.6 L1754.6,1224.0 L1769.5,1229.1 L1784.6,1234.1 L1799.7,1238.8 L1814.9,1243.3 L1830.2,1247.5 L1845.6,1251.5 L1861.1,1255.2 L1876.8,1258.6 L1892.5,1261.8 L1939.7,1270.7 L1941.6,1260.5 L1894.5,1251.5 L1878.9,1248.4 L1863.5,1245.0 L1848.1,1241.3 L1832.9,1237.3 L1817.8,1233.1 L1802.7,1228.7 L1787.8,1224.0 L1772.9,1219.1 L1758.2,1213.9 L1743.5,1208.6 L1728.8,1203.1 L1714.3,1197.4 L1699.8,1191.5 L1685.3,1185.5 L1670.9,1179.3 L1656.6,1173.0 L1642.3,1166.6 L1628.0,1160.1 L1613.8,1153.4 L1599.6,1146.7 L1585.5,1139.9 L1571.3,1133.0 L1557.2,1126.1 L1543.1,1119.1 L1529.0,1112.1 L1514.9,1105.0 L1500.8,1098.0 L1486.7,1090.9 L1472.6,1083.8 L1458.5,1076.8 L1444.4,1069.8 L1430.2,1062.9 L1416.0,1056.0 L1401.8,1049.1 L1387.6,1042.4 L1373.3,1035.7 L1358.9,1029.1 L1344.5,1022.6 L1330.1,1016.3 L1315.6,1010.1 L1301.0,1004.0 L1286.4,998.1 L1271.7,992.3 L1256.9,986.8 L1242.1,981.4 L1227.1,976.2 L1212.1,971.2 L1166.4,956.5Z" fill="#928921" stroke="none"/>
<path d="M1164.62,962.04 L1210.31,976.74 C1445.35,1052.35 1647.33,1209.86 1893.48,1256.65 L1940.64,1265.62" stroke="#fff" stroke-width="2.4"/>
<path d="M297.7,930.2 L339.3,954.0 L344.6,957.1 L349.8,960.1 L355.0,963.2 L360.2,966.3 L365.4,969.5 L370.5,972.7 L375.7,975.9 L380.8,979.2 L385.9,982.4 L391.0,985.7 L396.1,989.1 L401.1,992.4 L406.2,995.8 L411.2,999.1 L416.3,1002.5 L421.3,1005.9 L426.3,1009.4 L431.3,1012.8 L436.3,1016.2 L441.3,1019.7 L446.4,1023.1 L451.4,1026.6 L456.4,1030.1 L461.4,1033.5 L466.4,1037.0 L471.4,1040.4 L476.4,1043.9 L481.4,1047.3 L486.5,1050.8 L491.5,1054.2 L496.6,1057.6 L501.6,1061.0 L506.7,1064.4 L511.8,1067.8 L516.9,1071.1 L522.0,1074.5 L527.1,1077.8 L532.3,1081.1 L537.5,1084.3 L542.7,1087.6 L547.9,1090.8 L553.1,1093.9 L558.4,1097.1 L563.6,1100.2 L569.0,1103.3 L574.3,1106.3 L579.7,1109.3 L621.6,1132.7 L626.7,1123.5 L584.8,1100.1 L579.5,1097.1 L574.2,1094.1 L569.0,1091.0 L563.8,1087.9 L558.6,1084.8 L553.5,1081.6 L548.3,1078.4 L543.2,1075.2 L538.1,1071.9 L533.0,1068.6 L528.0,1065.3 L522.9,1062.0 L517.9,1058.6 L512.8,1055.3 L507.8,1051.9 L502.8,1048.4 L497.8,1045.0 L492.8,1041.6 L487.8,1038.1 L482.8,1034.7 L477.8,1031.2 L472.8,1027.7 L467.8,1024.2 L462.9,1020.7 L457.9,1017.2 L452.9,1013.7 L447.9,1010.3 L442.9,1006.8 L437.9,1003.3 L432.9,999.8 L427.9,996.4 L422.8,992.9 L417.8,989.5 L412.7,986.0 L407.7,982.6 L402.6,979.2 L397.5,975.8 L392.4,972.5 L387.2,969.1 L382.1,965.8 L376.9,962.5 L371.7,959.3 L366.5,956.0 L361.3,952.8 L356.0,949.7 L350.7,946.5 L345.4,943.4 L303.7,919.6Z" fill="#c73050" stroke="none"/>
<path d="M300.69,924.86 L342.33,948.74 C425.44,996.39 498.66,1058.15 582.22,1104.72 L624.14,1128.08" stroke="#fff" stroke-width="2.4"/>
<path d="M764.4,1144.6 L739.4,1185.6 L735.9,1191.4 L732.6,1197.2 L729.3,1203.1 L726.2,1209.1 L723.1,1215.0 L720.2,1221.1 L717.3,1227.1 L714.5,1233.2 L711.8,1239.3 L709.2,1245.4 L706.6,1251.6 L704.1,1257.8 L701.7,1264.0 L699.3,1270.2 L696.9,1276.5 L694.6,1282.7 L692.4,1289.0 L690.2,1295.3 L688.0,1301.6 L685.8,1307.8 L683.7,1314.1 L681.6,1320.4 L679.5,1326.7 L677.4,1333.0 L675.3,1339.3 L673.2,1345.6 L671.1,1351.9 L669.0,1358.1 L666.9,1364.4 L664.7,1370.6 L662.6,1376.8 L660.4,1383.0 L658.1,1389.2 L655.9,1395.3 L653.6,1401.4 L651.2,1407.5 L648.9,1413.6 L646.4,1419.6 L643.9,1425.6 L641.3,1431.5 L638.7,1437.4 L636.0,1443.3 L633.2,1449.1 L630.3,1454.9 L627.4,1460.6 L624.4,1466.3 L621.2,1471.9 L597.5,1513.6 L606.5,1518.8 L630.3,1477.1 L633.5,1471.3 L636.6,1465.5 L639.7,1459.6 L642.6,1453.7 L645.5,1447.8 L648.3,1441.8 L651.0,1435.8 L653.7,1429.7 L656.2,1423.7 L658.7,1417.5 L661.2,1411.4 L663.6,1405.3 L665.9,1399.1 L668.2,1392.9 L670.5,1386.6 L672.7,1380.4 L675.0,1374.2 L677.1,1367.9 L679.3,1361.6 L681.4,1355.4 L683.6,1349.1 L685.7,1342.8 L687.8,1336.5 L689.9,1330.2 L692.0,1324.0 L694.2,1317.7 L696.3,1311.4 L698.5,1305.2 L700.7,1299.0 L702.9,1292.8 L705.2,1286.6 L707.4,1280.4 L709.8,1274.2 L712.2,1268.1 L714.6,1262.0 L717.1,1255.9 L719.6,1249.9 L722.2,1243.9 L724.9,1237.9 L727.7,1232.0 L730.5,1226.1 L733.4,1220.2 L736.4,1214.4 L739.5,1208.6 L742.6,1202.9 L745.9,1197.2 L749.3,1191.6 L774.3,1150.7Z" fill="#c73050" stroke="none"/>
<path d="M769.39,1147.64 L744.35,1188.59 C689.89,1277.69 676.43,1385.63 625.75,1474.52 L601.98,1516.22" stroke="#fff" stroke-width="2.4"/>
<path d="M827.7,1170.7 L869.7,1193.8 L879.2,1199.1 L888.6,1204.7 L897.8,1210.4 L906.8,1216.3 L915.8,1222.4 L924.6,1228.6 L933.3,1235.0 L941.9,1241.6 L950.3,1248.3 L958.7,1255.1 L967.0,1262.1 L975.3,1269.1 L983.4,1276.3 L991.5,1283.5 L999.5,1290.8 L1007.5,1298.3 L1015.4,1305.7 L1023.3,1313.2 L1031.2,1320.8 L1039.0,1328.4 L1046.9,1336.0 L1054.7,1343.7 L1062.5,1351.3 L1070.4,1359.0 L1078.2,1366.6 L1086.1,1374.2 L1094.0,1381.8 L1102.0,1389.4 L1109.9,1396.9 L1118.0,1404.3 L1126.1,1411.7 L1134.3,1419.0 L1142.5,1426.2 L1150.9,1433.3 L1159.3,1440.3 L1167.8,1447.2 L1176.4,1454.0 L1185.2,1460.6 L1194.0,1467.1 L1203.0,1473.4 L1212.1,1479.6 L1221.4,1485.6 L1230.8,1491.4 L1240.4,1497.0 L1250.1,1502.4 L1260.1,1507.6 L1270.1,1512.5 L1313.5,1533.2 L1317.9,1523.8 L1274.6,1503.1 L1264.8,1498.3 L1255.1,1493.2 L1245.6,1487.9 L1236.2,1482.4 L1227.0,1476.7 L1218.0,1470.8 L1209.0,1464.7 L1200.2,1458.5 L1191.5,1452.1 L1182.9,1445.5 L1174.5,1438.9 L1166.1,1432.1 L1157.8,1425.1 L1149.6,1418.1 L1141.4,1410.9 L1133.3,1403.7 L1125.3,1396.4 L1117.4,1389.0 L1109.4,1381.5 L1101.6,1374.0 L1093.7,1366.4 L1085.9,1358.8 L1078.1,1351.1 L1070.2,1343.5 L1062.4,1335.8 L1054.6,1328.1 L1046.8,1320.5 L1038.9,1312.8 L1031.0,1305.2 L1023.1,1297.6 L1015.1,1290.1 L1007.1,1282.6 L999.0,1275.2 L990.9,1267.9 L982.7,1260.6 L974.4,1253.4 L966.0,1246.4 L957.5,1239.4 L948.9,1232.6 L940.1,1225.9 L931.3,1219.4 L922.3,1213.0 L913.2,1206.7 L904.0,1200.7 L894.6,1194.8 L885.0,1189.1 L875.3,1183.6 L833.2,1160.5Z" fill="#c73050" stroke="none"/>
<path d="M830.44,1165.64 L872.53,1188.70 C1024.35,1271.88 1114.80,1432.56 1272.39,1507.83 L1315.70,1528.52" stroke="#fff" stroke-width="2.4"/>
</svg>
<div class="n root f0" id="root" style="left:18px;top:847px;width:353px;height:102px;"><span style="letter-spacing:-0.765px">Empty Report</span></div>
<div class="n blue f1" id="job" style="left:370px;top:334px;width:894.5px;height:84.5px;"><span style="letter-spacing:-0.446px">Is it a job or Centreon configuration problem ?</span></div>
<div class="n blue f2" id="logic" style="left:540px;top:129px;width:675px;height:81px;"><span style="letter-spacing:-0.366px">Check if the job configuration is "logic"</span></div>
<div class="n blue f2" id="host" style="left:898px;top:590px;width:1137px;height:162px;"><span style="letter-spacing:-0.374px">Is there any host or service in groups &amp; categories used in the job ?</span><span style="letter-spacing:-0.402px">Generate the report "Hostgroups-Host-Templates" or</span><span style="letter-spacing:-0.41px">"Hostgroups-Service-Templates" to check</span></div>
<div class="n blue f2" id="today" style="left:1534px;top:304px;width:835px;height:82px;"><span style="letter-spacing:-0.383px">Yes : Has this configuration been created today ?</span></div>
<div class="n blue f2" id="night" style="left:1774px;top:21px;width:1089px;height:81px;"><span style="letter-spacing:-0.374px">Yes : so report should be empty, data are only calculated at night</span></div>
<div class="n blue f2" id="keep" style="left:2427px;top:164px;width:406px;height:82px;"><span style="letter-spacing:-0.381px">No : keep investigating</span></div>
<div class="n blue f2" id="etl" style="left:2235px;top:605px;width:630px;height:121px;"><span style="letter-spacing:-0.388px">No : So configure and re-execute the</span><span style="letter-spacing:-0.416px">ETL using the documentation</span></div>
<div class="n olive f1" id="db" style="left:696px;top:892px;width:730px;height:85px;"><span style="letter-spacing:-0.446px">Is the reporting database up to date ?</span></div>
<div class="n olive f2" id="mon" style="left:1627px;top:872px;width:1203px;height:80.5px;"><span style="letter-spacing:-0.386px">Execute the /usr/share/centreon-bi/centreonbiMonitoring.pl --db-content</span></div>
<div class="n olive f2" id="diag" style="left:1783px;top:1035px;width:854px;height:81px;"><span style="letter-spacing:-0.384px">Execute /usr/share/centreon-bi/tools/diagnostic.sh</span></div>
<div class="n olive f2" id="bietl" style="left:1657px;top:1257px;width:1177px;height:81px;"><span style="letter-spacing:-0.399px">Check /var/log/centreon-bi/centreonBIETL.log and search for [ERROR]</span></div>
<div class="n pink f1" id="gen" style="left:474px;top:1104px;width:614px;height:85px;"><span style="letter-spacing:-0.456px">Is there a generation problem ?</span></div>
<div class="n pink f2" id="cbislog" style="left:151px;top:1474px;width:823px;height:82px;"><span style="letter-spacing:-0.402px">Check /var/log/centreon-bi/cbis.YYYY.DD.MM.log</span></div>
<div class="n pink f2" id="cbisout" style="left:1166px;top:1507px;width:602px;height:81px;"><span style="letter-spacing:-0.381px">Check /var/log/centreon-bi/cbis.out</span></div>
</div>
</body>
</html>
